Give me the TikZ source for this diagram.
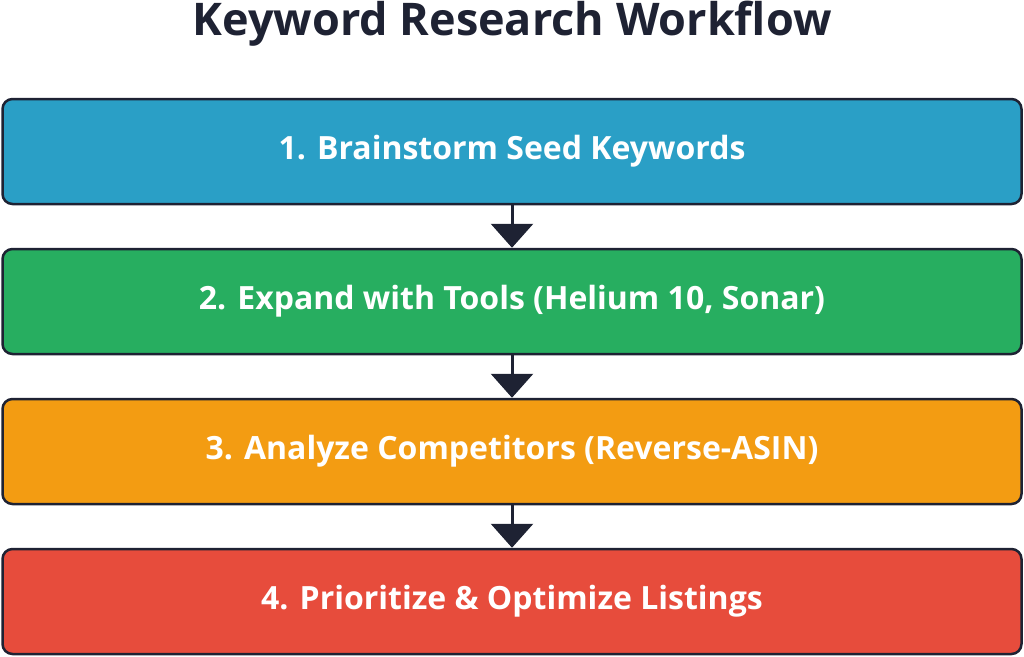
\documentclass[tikz,border=0pt]{standalone}
\usepackage{fontspec}
\setmainfont{Open Sans}
\usetikzlibrary{arrows.meta}
\definecolor{edge}{HTML}{1E2233}
\definecolor{cb}{HTML}{2A9FC6}
\definecolor{cg}{HTML}{27AE60}
\definecolor{co}{HTML}{F39C12}
\definecolor{cr}{HTML}{E74C3C}
\begin{document}
\begin{tikzpicture}[x=1pt,y=-1pt,
 box/.style={draw=edge,line width=2.5pt,rounded corners=10pt,minimum width=1019pt,minimum height=105pt,text=white,font=\bfseries\fontsize{32}{38}\selectfont,inner sep=0pt},
 arr/.style={draw=edge,line width=3pt,-{Triangle[width=42pt,length=24pt]}}]
\useasboundingbox (0,0) rectangle (1024,656);
\node[font=\bfseries\fontsize{45}{54}\selectfont,text=edge] (t) at (512,24) {Keyword Research Workflow};
\node[box,fill=cb] (a) at (512,151.5) {1. Brainstorm Seed Keywords};
\node[box,fill=cg] (b) at (512,301.5) {2. Expand with Tools (Helium 10, Sonar)};
\node[box,fill=co] (c) at (512,451.5) {3. Analyze Competitors (Reverse-ASIN)};
\node[box,fill=cr] (d) at (512,601.5) {4. Prioritize \& Optimize Listings};
\draw[arr] (a) -- (b);
\draw[arr] (b) -- (c);
\draw[arr] (c) -- (d);
\end{tikzpicture}
\end{document}
